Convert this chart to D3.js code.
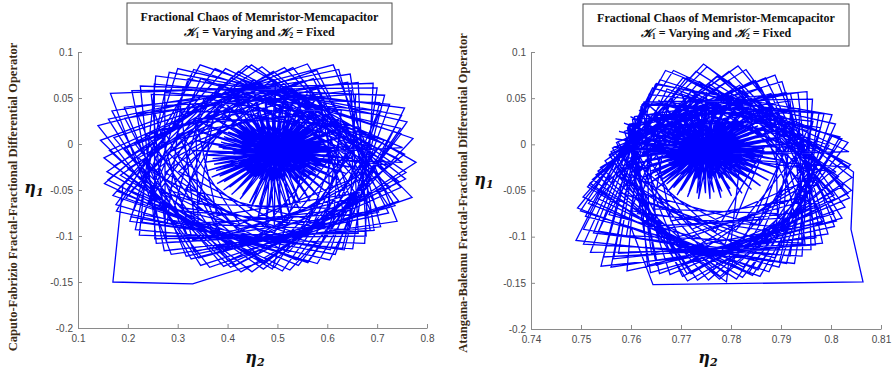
<!DOCTYPE html>
<html>
<head>
<meta charset="utf-8">
<script src="https://cdn.jsdelivr.net/npm/d3@7"></script>
<style>
body { margin: 0; background: #fff; }
.axis path, .axis line { stroke: #8a8a8a; }
.axis text { font-family: "Liberation Sans", Arial, sans-serif; font-size: 10px; fill: #4a4a4a; }
.title { font-family: "Liberation Serif", "Times New Roman", serif; font-weight: bold; font-size: 12px; fill: #111; }
.ylab { font-family: "Liberation Serif", "Times New Roman", serif; font-weight: bold; font-size: 12.5px; fill: #3b2b14; }
.eta { font-family: "DejaVu Serif", serif; font-weight: bold; font-style: italic; font-size: 16px; fill: #111; }
</style>
</head>
<body>
<svg id="chart" width="894" height="371"></svg>
<script>
// values (eta2, eta1)
var yTicks = [0.1, 0.05, 0, -0.05, -0.1, -0.15, -0.2];
var cfXTicks = [0.1, 0.2, 0.3, 0.4, 0.5, 0.6, 0.7, 0.8];
var abXTicks = [0.74, 0.75, 0.76, 0.77, 0.78, 0.79, 0.8, 0.81];

// Caputo-Fabrizio panel
var cfStart = [[0.19,-0.045],[0.17,-0.15],[0.33,-0.152],[0.47,-0.128]];
var cfLoopsA = [[0.778,-0.020],[0.438,0.085],[0.153,-0.043],[0.525,-0.137],
  [0.772,0.006],[0.345,0.086],[0.177,-0.073],[0.605,-0.126],
  [0.755,0.039],[0.256,0.074],[0.223,-0.099],[0.675,-0.108],
  [0.692,0.066],[0.165,0.055],[0.287,-0.120],[0.740,-0.084],
  [0.612,0.086],[0.140,0.020],[0.364,-0.134],[0.770,-0.058],
  [0.514,0.083],[0.152,-0.015],[0.449,-0.139]];
var cfLoopsB = [[0.742,-0.016],[0.407,0.072],[0.196,-0.059],[0.561,-0.128],
  [0.747,0.017],[0.321,0.071],[0.228,-0.085],[0.630,-0.114],
  [0.705,0.045],[0.247,0.054],[0.278,-0.107],[0.686,-0.094],
  [0.641,0.067],[0.194,0.028],[0.342,-0.124],[0.725,-0.069],
  [0.552,0.069],[0.193,-0.005],[0.416,-0.132],[0.744,-0.041],
  [0.475,0.074],[0.185,-0.034],[0.494,-0.134]];
var cfLoopsC = [[0.720,-0.025],[0.453,0.070],[0.223,-0.038],[0.522,-0.118],
  [0.710,0.001],[0.385,0.064],[0.242,-0.064],[0.587,-0.109],
  [0.700,0.032],[0.310,0.060],[0.279,-0.086],[0.644,-0.093],
  [0.657,0.054],[0.250,0.041],[0.330,-0.104],[0.687,-0.073],
  [0.580,0.060],[0.238,0.011],[0.393,-0.115],[0.713,-0.048],
  [0.514,0.069],[0.221,-0.015],[0.461,-0.120]];
var cfLoopsD = [[0.755,-0.011],[0.396,0.082],[0.170,-0.056],[0.561,-0.129],
  [0.760,0.024],[0.300,0.082],[0.204,-0.084],[0.634,-0.115],
  [0.715,0.053],[0.225,0.063],[0.257,-0.108],[0.694,-0.094],
  [0.646,0.076],[0.168,0.036],[0.327,-0.125],[0.736,-0.067],
  [0.560,0.087],[0.145,0.004],[0.406,-0.134],[0.757,-0.038],
  [0.469,0.084],[0.158,-0.030],[0.490,-0.136]];
var cfLoopsE = [[0.751,-0.020],[0.422,0.079],[0.178,-0.051],[0.542,-0.132],
  [0.748,0.011],[0.332,0.081],[0.206,-0.079],[0.616,-0.120],
  [0.725,0.043],[0.253,0.065],[0.254,-0.103],[0.678,-0.100],
  [0.662,0.067],[0.193,0.040],[0.317,-0.122],[0.723,-0.075],
  [0.579,0.080],[0.172,0.007],[0.392,-0.133],[0.748,-0.047],
  [0.492,0.079],[0.172,-0.024],[0.472,-0.136]];
var cfLoopsF = [[0.685,-0.004],[0.409,0.060],[0.263,-0.051],[0.560,-0.100],
  [0.664,0.018],[0.353,0.050],[0.292,-0.072],[0.612,-0.087],
  [0.628,0.037],[0.307,0.035],[0.335,-0.089],[0.652,-0.070],
  [0.580,0.052],[0.272,0.015],[0.388,-0.101],[0.679,-0.048],
  [0.523,0.061],[0.253,-0.007],[0.447,-0.107],[0.690,-0.025],
  [0.462,0.063],[0.251,-0.031],[0.508,-0.106]];
var cfLoopsG = [[0.729,-0.023],[0.428,0.069],[0.206,-0.051],[0.538,-0.126],
  [0.714,0.004],[0.346,0.071],[0.231,-0.077],[0.606,-0.115],
  [0.705,0.036],[0.274,0.056],[0.275,-0.100],[0.662,-0.097],
  [0.648,0.058],[0.219,0.033],[0.333,-0.117],[0.703,-0.074],
  [0.572,0.071],[0.213,0.001],[0.401,-0.127],[0.726,-0.047],
  [0.493,0.070],[0.200,-0.027],[0.474,-0.130]];
var cfLoopsH = [[0.751,-0.004],[0.375,0.082],[0.176,-0.066],[0.580,-0.130],
  [0.749,0.031],[0.283,0.078],[0.215,-0.093],[0.651,-0.114],
  [0.700,0.061],[0.208,0.058],[0.273,-0.116],[0.707,-0.090],
  [0.623,0.081],[0.161,0.027],[0.346,-0.132],[0.743,-0.062],
  [0.531,0.083],[0.163,-0.007],[0.427,-0.139],[0.758,-0.031],
  [0.448,0.086],[0.160,-0.039],[0.510,-0.138]];
var cfLoopsI = [[0.660,-0.020],[0.467,0.050],[0.302,-0.030],[0.517,-0.089],
  [0.653,-0.001],[0.418,0.046],[0.316,-0.049],[0.564,-0.082],
  [0.633,0.017],[0.374,0.037],[0.342,-0.065],[0.605,-0.070],
  [0.600,0.032],[0.338,0.023],[0.379,-0.078],[0.636,-0.055],
  [0.559,0.043],[0.313,0.006],[0.424,-0.087],[0.655,-0.037],
  [0.511,0.049],[0.301,-0.013],[0.474,-0.090]];
var cfLoopsJ = [[0.673,-0.017],[0.433,0.048],[0.283,-0.050],[0.543,-0.101],
  [0.658,0.004],[0.381,0.041],[0.305,-0.069],[0.593,-0.091],
  [0.628,0.022],[0.336,0.028],[0.341,-0.086],[0.633,-0.076],
  [0.587,0.037],[0.302,0.011],[0.387,-0.098],[0.660,-0.057],
  [0.537,0.046],[0.281,-0.009],[0.440,-0.105],[0.674,-0.036],
  [0.482,0.050],[0.275,-0.031],[0.496,-0.106]];
var cfInnerA = [[0.650,-0.008],[0.390,-0.005],[0.649,-0.016],[0.392,0.001],[0.644,-0.025],[0.397,0.007],
  [0.637,-0.032],[0.403,0.013],[0.627,-0.040],[0.411,0.018],[0.615,-0.047],[0.421,0.023],
  [0.600,-0.053],[0.432,0.027],[0.584,-0.058],[0.445,0.031],[0.566,-0.062],[0.459,0.034],
  [0.546,-0.065],[0.473,0.036],[0.526,-0.067],[0.488,0.037],[0.505,-0.068],[0.504,0.037],
  [0.484,-0.068],[0.519,0.036],[0.464,-0.066],[0.534,0.035],[0.444,-0.064],[0.548,0.032],
  [0.425,-0.060],[0.561,0.029],[0.408,-0.055],[0.574,0.025],[0.392,-0.050],[0.584,0.021],
  [0.379,-0.043],[0.593,0.016],[0.368,-0.036],[0.601,0.010],[0.359,-0.029],[0.606,0.004],
  [0.353,-0.020],[0.609,-0.002],[0.350,-0.012]];
var cfInnerB = [[0.610,-0.012],[0.330,-0.007],[0.609,-0.019],[0.334,0.004],[0.605,-0.026],[0.340,0.014],
  [0.600,-0.032],[0.349,0.023],[0.592,-0.039],[0.361,0.032],[0.582,-0.044],[0.375,0.040],
  [0.570,-0.049],[0.391,0.047],[0.557,-0.053],[0.410,0.053],[0.543,-0.070],[0.430,0.058],
  [0.527,-0.080],[0.451,0.061],[0.511,-0.085],[0.473,0.063],[0.494,-0.088],[0.496,0.063],
  [0.477,-0.086],[0.518,0.062],[0.461,-0.080],[0.539,0.059],[0.445,-0.072],[0.560,0.055],
  [0.430,-0.055],[0.579,0.050],[0.416,-0.051],[0.597,0.044],[0.404,-0.047],[0.613,0.036],
  [0.393,-0.041],[0.626,0.028],[0.384,-0.035],[0.636,0.019],[0.377,-0.029],[0.644,0.009],
  [0.373,-0.022],[0.648,-0.002],[0.370,-0.016]];
var cfInnerC = [[0.610,-0.004],[0.430,-0.002],[0.609,-0.009],[0.432,0.002],[0.606,-0.014],[0.435,0.006],
  [0.601,-0.019],[0.439,0.010],[0.595,-0.023],[0.445,0.014],[0.587,-0.027],[0.452,0.017],
  [0.577,-0.031],[0.461,0.020],[0.566,-0.034],[0.470,0.022],[0.554,-0.036],[0.480,0.024],
  [0.541,-0.038],[0.491,0.025],[0.527,-0.039],[0.502,0.026],[0.514,-0.040],[0.513,0.026],
  [0.500,-0.040],[0.524,0.026],[0.486,-0.039],[0.535,0.025],[0.473,-0.037],[0.545,0.023],
  [0.460,-0.035],[0.555,0.021],[0.448,-0.032],[0.564,0.018],[0.438,-0.029],[0.571,0.015],
  [0.429,-0.025],[0.578,0.012],[0.422,-0.021],[0.583,0.008],[0.416,-0.016],[0.587,0.004],
  [0.412,-0.011],[0.589,0.000],[0.410,-0.007]];
var cfInnerD = [[0.560,-0.012],[0.380,-0.009],[0.559,-0.016],[0.382,-0.003],[0.557,-0.020],[0.387,0.002],
  [0.554,-0.023],[0.393,0.008],[0.549,-0.027],[0.401,0.013],[0.544,-0.030],[0.411,0.017],
  [0.537,-0.033],[0.422,0.021],[0.529,-0.035],[0.435,0.024],[0.521,-0.037],[0.449,0.027],
  [0.512,-0.039],[0.463,0.029],[0.502,-0.040],[0.478,0.030],[0.492,-0.040],[0.494,0.030],
  [0.483,-0.040],[0.509,0.029],[0.473,-0.039],[0.524,0.028],[0.464,-0.038],[0.538,0.026],
  [0.455,-0.036],[0.551,0.023],[0.447,-0.034],[0.564,0.019],[0.440,-0.031],[0.574,0.015],
  [0.433,-0.028],[0.583,0.010],[0.428,-0.025],[0.591,0.005],[0.424,-0.022],[0.596,0.000],
  [0.421,-0.018],[0.599,-0.006],[0.420,-0.014]];

// Atangana-Baleanu panel
var abStart = [[0.7600,-0.090],[0.7644,-0.152],[0.8064,-0.149],[0.8040,-0.092]];
var abLoopsA = [[0.8045,-0.030],[0.7745,0.087],[0.7513,-0.046],[0.7823,-0.144],
  [0.8034,0.002],[0.7669,0.080],[0.7509,-0.078],[0.7896,-0.133],
  [0.8002,0.032],[0.7649,0.065],[0.7519,-0.117],[0.7960,-0.114],
  [0.7952,0.057],[0.7620,0.041],[0.7592,-0.137],[0.8007,-0.089],
  [0.7888,0.075],[0.7587,0.014],[0.7678,-0.141],[0.8037,-0.058],
  [0.7814,0.085],[0.7548,-0.018],[0.7755,-0.147]];
var abLoopsB = [[0.8022,-0.019],[0.7711,0.072],[0.7515,-0.064],[0.7854,-0.136],
  [0.8003,0.010],[0.7643,0.061],[0.7525,-0.096],[0.7918,-0.121],
  [0.7964,0.035],[0.7624,0.044],[0.7565,-0.124],[0.7970,-0.101],
  [0.7910,0.056],[0.7595,0.020],[0.7651,-0.131],[0.8006,-0.075],
  [0.7845,0.069],[0.7560,-0.008],[0.7720,-0.140],[0.8024,-0.045],
  [0.7774,0.074],[0.7523,-0.038],[0.7792,-0.141]];
var abLoopsC = [[0.8015,-0.035],[0.7758,0.065],[0.7537,-0.049],[0.7825,-0.133],
  [0.8006,-0.007],[0.7693,0.059],[0.7556,-0.076],[0.7888,-0.123],
  [0.7979,0.018],[0.7636,0.046],[0.7591,-0.099],[0.7942,-0.107],
  [0.7936,0.039],[0.7603,0.027],[0.7641,-0.118],[0.7983,-0.085],
  [0.7880,0.055],[0.7574,0.003],[0.7701,-0.130],[0.8008,-0.059],
  [0.7817,0.064],[0.7539,-0.025],[0.7767,-0.135]];
var abLoopsD = [[0.8039,-0.022],[0.7704,0.072],[0.7493,-0.069],[0.7858,-0.143],
  [0.8018,0.008],[0.7643,0.061],[0.7490,-0.104],[0.7927,-0.129],
  [0.7976,0.034],[0.7622,0.043],[0.7540,-0.132],[0.7983,-0.107],
  [0.7919,0.055],[0.7593,0.018],[0.7639,-0.139],[0.8022,-0.080],
  [0.7849,0.069],[0.7557,-0.011],[0.7713,-0.148],[0.8041,-0.050],
  [0.7772,0.074],[0.7518,-0.042],[0.7791,-0.149]];
var abLoopsE = [[0.8037,-0.025],[0.7730,0.079],[0.7504,-0.057],[0.7843,-0.142],
  [0.8022,0.006],[0.7658,0.070],[0.7505,-0.092],[0.7911,-0.129],
  [0.7986,0.033],[0.7636,0.054],[0.7545,-0.122],[0.7969,-0.109],
  [0.7934,0.056],[0.7607,0.030],[0.7633,-0.131],[0.8011,-0.083],
  [0.7869,0.072],[0.7571,0.002],[0.7703,-0.143],[0.8034,-0.053],
  [0.7796,0.079],[0.7534,-0.029],[0.7777,-0.146]];
var abLoopsF = [[0.7971,-0.007],[0.7720,0.057],[0.7587,-0.054],[0.7856,-0.103],
  [0.7952,0.015],[0.7669,0.047],[0.7613,-0.075],[0.7904,-0.090],
  [0.7919,0.034],[0.7626,0.032],[0.7652,-0.092],[0.7941,-0.073],
  [0.7875,0.049],[0.7595,0.012],[0.7700,-0.104],[0.7965,-0.051],
  [0.7823,0.058],[0.7578,-0.010],[0.7754,-0.110],[0.7975,-0.028],
  [0.7768,0.060],[0.7576,-0.034],[0.7810,-0.109]];
var abLoopsG = [[0.8010,-0.030],[0.7737,0.068],[0.7535,-0.059],[0.7836,-0.139],
  [0.7996,-0.001],[0.7672,0.060],[0.7535,-0.094],[0.7897,-0.127],
  [0.7964,0.025],[0.7624,0.044],[0.7575,-0.118],[0.7948,-0.108],
  [0.7918,0.047],[0.7597,0.022],[0.7650,-0.129],[0.7986,-0.083],
  [0.7860,0.061],[0.7563,-0.004],[0.7712,-0.140],[0.8006,-0.055],
  [0.7795,0.069],[0.7530,-0.033],[0.7778,-0.143]];
var abLoopsH = [[0.8036,-0.008],[0.7685,0.080],[0.7499,-0.072],[0.7876,-0.138],
  [0.8009,0.022],[0.7651,0.066],[0.7505,-0.108],[0.7942,-0.121],
  [0.7963,0.049],[0.7626,0.046],[0.7560,-0.133],[0.7994,-0.097],
  [0.7902,0.068],[0.7594,0.019],[0.7657,-0.140],[0.8028,-0.068],
  [0.7830,0.081],[0.7557,-0.012],[0.7733,-0.147],[0.8042,-0.036],
  [0.7752,0.084],[0.7516,-0.044],[0.7811,-0.146]];
var abLoopsI = [[0.7945,-0.025],[0.7763,0.045],[0.7607,-0.035],[0.7810,-0.093],
  [0.7938,-0.006],[0.7717,0.041],[0.7620,-0.053],[0.7855,-0.087],
  [0.7919,0.012],[0.7675,0.032],[0.7645,-0.070],[0.7893,-0.075],
  [0.7889,0.027],[0.7641,0.018],[0.7680,-0.083],[0.7922,-0.060],
  [0.7849,0.038],[0.7617,0.001],[0.7722,-0.092],[0.7940,-0.042],
  [0.7805,0.044],[0.7606,-0.018],[0.7769,-0.095]];
var abLoopsJ = [[0.7968,-0.019],[0.7728,0.048],[0.7578,-0.052],[0.7838,-0.105],
  [0.7953,0.003],[0.7676,0.041],[0.7600,-0.072],[0.7888,-0.095],
  [0.7923,0.021],[0.7631,0.028],[0.7636,-0.089],[0.7928,-0.079],
  [0.7882,0.036],[0.7597,0.010],[0.7682,-0.102],[0.7955,-0.060],
  [0.7832,0.046],[0.7576,-0.011],[0.7735,-0.109],[0.7969,-0.038],
  [0.7777,0.050],[0.7570,-0.033],[0.7791,-0.110]];
var abInnerA = [[0.7912,-0.003],[0.7632,0.000],[0.7910,-0.011],[0.7635,0.006],[0.7906,-0.018],[0.7639,0.012],
  [0.7898,-0.026],[0.7646,0.018],[0.7888,-0.033],[0.7655,0.023],[0.7875,-0.039],[0.7666,0.028],
  [0.7859,-0.045],[0.7678,0.032],[0.7841,-0.049],[0.7692,0.035],[0.7822,-0.053],[0.7707,0.038],
  [0.7801,-0.056],[0.7723,0.040],[0.7780,-0.058],[0.7739,0.041],[0.7758,-0.059],[0.7756,0.041],
  [0.7735,-0.059],[0.7773,0.040],[0.7713,-0.057],[0.7789,0.039],[0.7692,-0.055],[0.7805,0.037],
  [0.7672,-0.052],[0.7819,0.033],[0.7653,-0.047],[0.7832,0.030],[0.7637,-0.042],[0.7844,0.025],
  [0.7623,-0.036],[0.7854,0.020],[0.7611,-0.029],[0.7862,0.015],[0.7602,-0.022],[0.7867,0.009],
  [0.7596,-0.015],[0.7871,0.003],[0.7592,-0.007]];
var abInnerB = [[0.7865,-0.008],[0.7565,-0.003],[0.7864,-0.014],[0.7569,0.006],[0.7860,-0.020],[0.7576,0.014],
  [0.7855,-0.026],[0.7586,0.023],[0.7847,-0.032],[0.7599,0.030],[0.7837,-0.037],[0.7616,0.037],
  [0.7825,-0.041],[0.7634,0.043],[0.7812,-0.045],[0.7655,0.048],[0.7798,-0.048],[0.7678,0.052],
  [0.7782,-0.051],[0.7701,0.055],[0.7766,-0.052],[0.7726,0.057],[0.7749,-0.053],[0.7751,0.057],
  [0.7732,-0.053],[0.7776,0.056],[0.7716,-0.052],[0.7801,0.054],[0.7700,-0.050],[0.7824,0.050],
  [0.7685,-0.047],[0.7846,0.046],[0.7671,-0.043],[0.7865,0.040],[0.7659,-0.039],[0.7883,0.034],
  [0.7648,-0.034],[0.7898,0.026],[0.7639,-0.029],[0.7910,0.018],[0.7632,-0.023],[0.7918,0.010],
  [0.7628,-0.017],[0.7923,0.001],[0.7625,-0.011]];
var abInnerC = [[0.7868,-0.002],[0.7673,0.000],[0.7867,-0.007],[0.7675,0.004],[0.7864,-0.012],[0.7678,0.008],
  [0.7859,-0.017],[0.7683,0.012],[0.7851,-0.021],[0.7689,0.016],[0.7842,-0.025],[0.7697,0.019],
  [0.7832,-0.029],[0.7706,0.022],[0.7819,-0.032],[0.7716,0.024],[0.7806,-0.034],[0.7726,0.026],
  [0.7792,-0.036],[0.7737,0.027],[0.7777,-0.037],[0.7749,0.028],[0.7762,-0.038],[0.7761,0.028],
  [0.7746,-0.038],[0.7773,0.028],[0.7731,-0.037],[0.7784,0.027],[0.7717,-0.035],[0.7795,0.025],
  [0.7703,-0.033],[0.7806,0.023],[0.7690,-0.030],[0.7815,0.020],[0.7679,-0.027],[0.7823,0.017],
  [0.7669,-0.023],[0.7830,0.014],[0.7661,-0.019],[0.7836,0.010],[0.7655,-0.014],[0.7840,0.006],
  [0.7650,-0.009],[0.7842,0.002],[0.7648,-0.005]];
var abInnerD = [[0.7820,-0.010],[0.7625,-0.007],[0.7819,-0.014],[0.7628,-0.001],[0.7817,-0.018],[0.7632,0.005],
  [0.7814,-0.021],[0.7639,0.011],[0.7809,-0.025],[0.7648,0.016],[0.7802,-0.028],[0.7659,0.021],
  [0.7795,-0.031],[0.7671,0.025],[0.7787,-0.033],[0.7685,0.029],[0.7778,-0.035],[0.7700,0.032],
  [0.7768,-0.037],[0.7716,0.034],[0.7758,-0.038],[0.7732,0.035],[0.7748,-0.038],[0.7749,0.035],
  [0.7737,-0.038],[0.7766,0.034],[0.7727,-0.037],[0.7782,0.033],[0.7717,-0.036],[0.7798,0.030],
  [0.7708,-0.034],[0.7812,0.027],[0.7699,-0.032],[0.7825,0.023],[0.7691,-0.029],[0.7837,0.019],
  [0.7684,-0.026],[0.7847,0.014],[0.7679,-0.023],[0.7855,0.008],[0.7675,-0.020],[0.7860,0.002],
  [0.7674,-0.016],[0.7864,-0.004],[0.7673,-0.013]];

var svg = d3.select("#chart");
var fmt = function(d){ return String(+d.toFixed(3)); };

function drawPanel(p) {
  var x = d3.scaleLinear().domain(p.xDomain).range([p.left, p.right]);
  var y = d3.scaleLinear().domain([-0.2, 0.1]).range([p.bottom, p.top]);

  svg.append("g")
    .attr("class", "axis")
    .attr("transform", "translate(0," + p.bottom + ")")
    .call(d3.axisBottom(x).tickValues(p.xTicks).tickFormat(fmt).tickSizeInner(-4).tickSizeOuter(0).tickPadding(7));

  svg.append("g")
    .attr("class", "axis")
    .attr("transform", "translate(" + p.left + ",0)")
    .call(d3.axisLeft(y).tickValues(yTicks).tickFormat(fmt).tickSizeInner(-4).tickSizeOuter(0).tickPadding(5));

  var line = d3.line()
    .x(function(d){ return x(d[0]); })
    .y(function(d){ return y(d[1]); });

  svg.append("path")
    .datum(p.points)
    .attr("d", line)
    .attr("fill", "none")
    .attr("stroke", "#0000ff")
    .attr("stroke-width", 1.3);

  // title box
  svg.append("rect")
    .attr("x", p.box[0]).attr("y", p.box[1])
    .attr("width", p.box[2]).attr("height", p.box[3])
    .attr("fill", "#fff").attr("stroke", "#4d4d4d");
  var cx = p.box[0] + p.box[2] / 2;
  svg.append("text").attr("class", "title")
    .attr("x", cx).attr("y", p.box[1] + 18)
    .attr("text-anchor", "middle")
    .text("Fractional Chaos of Memristor-Memcapacitor");
  var t2 = svg.append("text").attr("class", "title")
    .attr("x", cx).attr("y", p.box[1] + 33)
    .attr("text-anchor", "middle");
  t2.append("tspan").attr("font-style", "italic").text("\uD835\uDCA6");
  t2.append("tspan").attr("font-size", "8px").attr("dy", 2).text("1");
  t2.append("tspan").attr("dy", -2).text(" = Varying and ");
  t2.append("tspan").attr("font-style", "italic").text("\uD835\uDCA6");
  t2.append("tspan").attr("font-size", "8px").attr("dy", 2).text("2");
  t2.append("tspan").attr("dy", -2).text(" = Fixed");

  svg.append("text").attr("class", "ylab")
    .attr("transform", "translate(" + p.yLab[0] + "," + p.yLab[1] + ") rotate(-90)")
    .attr("text-anchor", "middle")
    .text(p.yTitle);

  var e1 = svg.append("text").attr("class", "eta")
    .attr("x", p.eta1[0]).attr("y", p.eta1[1]).attr("text-anchor", "middle");
  e1.append("tspan").text("\u03B7");
  e1.append("tspan").attr("font-size", "11px").attr("dy", 3).text("1");

  var e2 = svg.append("text").attr("class", "eta")
    .attr("x", p.eta2[0]).attr("y", p.eta2[1]).attr("text-anchor", "middle");
  e2.append("tspan").text("\u03B7");
  e2.append("tspan").attr("font-size", "11px").attr("dy", 3).text("2");
}

drawPanel({
  xDomain: [0.1, 0.8], xTicks: cfXTicks,
  left: 78, right: 427, top: 52, bottom: 328,
  points: [].concat(cfStart, cfLoopsA, cfLoopsB, cfInnerA, cfLoopsE, cfLoopsC, cfInnerB,
    cfLoopsF, cfLoopsI, cfInnerC, cfLoopsG, cfLoopsD, cfInnerD, cfLoopsH, cfLoopsJ),
  box: [127, 3, 265, 41],
  yTitle: "Caputo-Fabrizio Fractal-Fractional Differential Operator",
  yLab: [17, 197], eta1: [34, 193], eta2: [255, 363]
});

drawPanel({
  xDomain: [0.74, 0.81], xTicks: abXTicks,
  left: 531, right: 881, top: 52, bottom: 329,
  points: [].concat(abStart, abLoopsA, abLoopsB, abInnerA, abLoopsE, abLoopsC, abInnerB,
    abLoopsF, abLoopsI, abInnerC, abLoopsG, abLoopsD, abInnerD, abLoopsH, abLoopsJ),
  box: [583, 4, 266, 42],
  yTitle: "Atangana-Baleanu Fractal-Fractional Differential Operator",
  yLab: [467, 193], eta1: [484, 185], eta2: [708, 363]
});
</script>
</body>
</html>
